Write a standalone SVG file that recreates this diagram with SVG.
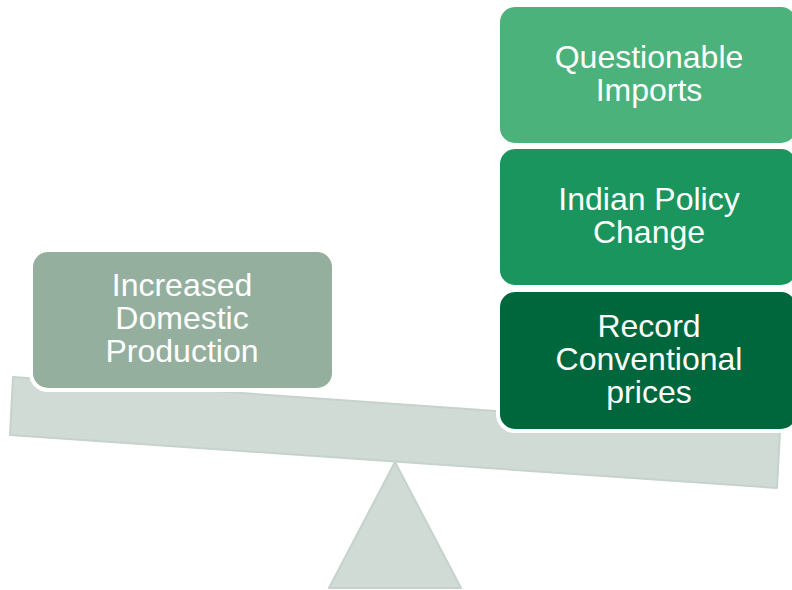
<svg xmlns="http://www.w3.org/2000/svg" width="792" height="590" viewBox="0 0 792 590">
<style>
.base{fill:#D1DBD6;stroke:#C6D2CC;stroke-width:2;stroke-linejoin:round}
.box{stroke:#FFFFFF;stroke-width:4}
.t{font-family:"Liberation Sans",Arial,sans-serif;font-size:32px;fill:#FFFFFF;text-anchor:middle}
</style>
<rect width="792" height="590" fill="#FFFFFF"/>
<g id="fulcrum">
<polygon class="base" points="395,462 461,588 329,588"/>
</g>
<g id="beam">
<polygon class="base" points="13,377 780,431 777,488 10,435"/>
</g>
<g id="connectors"></g>
<g id="node-domestic">
<rect class="box" x="31" y="250" width="303" height="140" rx="17" fill="#95AF9F"/>
<text class="t" x="182" y="296">Increased</text>
<text class="t" x="182" y="329">Domestic</text>
<text class="t" x="182" y="362">Production</text>
</g>
<g id="node-imports">
<rect class="box" x="498" y="5" width="300" height="140" rx="17" fill="#4BB27C"/>
<text class="t" x="649" y="68">Questionable</text>
<text class="t" x="649" y="101">Imports</text>
</g>
<g id="node-policy">
<rect class="box" x="498" y="147" width="300" height="140" rx="17" fill="#1A955E"/>
<text class="t" x="649" y="210">Indian Policy</text>
<text class="t" x="649" y="243">Change</text>
</g>
<g id="node-prices">
<rect class="box" x="498" y="290" width="300" height="141" rx="17" fill="#00673D"/>
<text class="t" x="649" y="337">Record</text>
<text class="t" x="649" y="370">Conventional</text>
<text class="t" x="649" y="403">prices</text>
</g>
</svg>
